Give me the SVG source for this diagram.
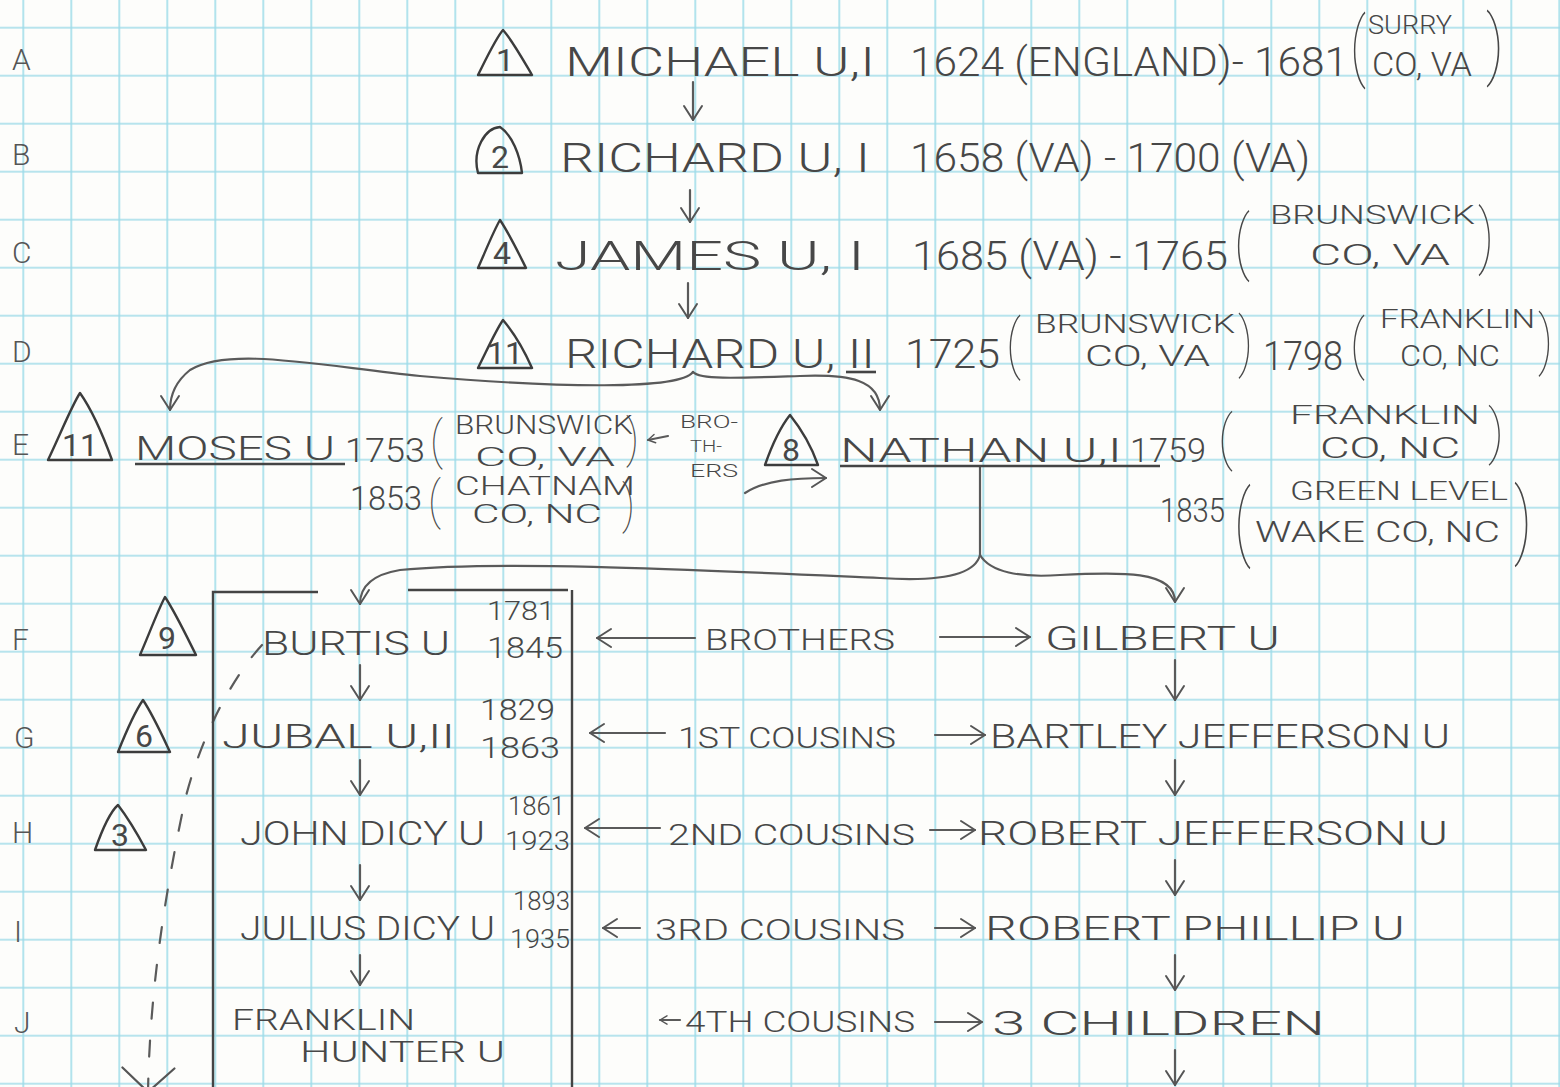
<svg xmlns="http://www.w3.org/2000/svg" width="1560" height="1087" viewBox="0 0 1560 1087">
<defs>
<pattern id="grid" x="-0.7" y="3.7" width="48" height="48" patternUnits="userSpaceOnUse">
<path d="M24,0 V48 M0,24 H48" stroke="#9fdce9" stroke-width="1.6" fill="none"/>
</pattern>
<marker id="ah" viewBox="-16 -12 18 24" markerWidth="18" markerHeight="24" markerUnits="userSpaceOnUse" refX="0" refY="0" orient="auto">
<path d="M-14,-9 L0,0 L-14,9" fill="none" stroke="#555" stroke-width="2" stroke-linecap="round" stroke-linejoin="round"/>
</marker>
<marker id="ahs" viewBox="-14 -10 16 20" markerWidth="12" markerHeight="14" markerUnits="userSpaceOnUse" refX="0" refY="0" orient="auto">
<path d="M-10,-6 L0,0 L-10,6" fill="none" stroke="#555" stroke-width="2" stroke-linecap="round" stroke-linejoin="round"/>
</marker>
<marker id="ahb" viewBox="-30 -30 32 60" markerWidth="32" markerHeight="60" markerUnits="userSpaceOnUse" refX="0" refY="0" orient="auto">
<path d="M-24,-26 L0,0 L-24,26" fill="none" stroke="#555" stroke-width="2.2" stroke-linecap="round"/>
</marker>
</defs>
<style>
.t{font-family:Roboto,"Liberation Sans",Arial,sans-serif;font-weight:300;fill:#474747}
.row{font-size:30px;fill:#555}
.big{font-size:40px}
.mid{font-size:34px}
.m2{font-size:30px}
.sm{font-size:25px}
.xs{font-size:18px}
.p{font-weight:100}
.num{font-size:32px;text-anchor:middle;font-weight:400}
.tri{fill:none;stroke:#3c3c3c;stroke-width:2.4;stroke-linejoin:round}
.c{fill:none;stroke:#5a5a5a;stroke-width:2.2;stroke-linecap:round}
.box{fill:none;stroke:#444;stroke-width:2.4}
.ul{stroke:#444;stroke-width:2.6}
</style>
<rect width="1560" height="1087" fill="#fdfdfb"/>
<rect width="1560" height="1087" fill="url(#grid)"/>

<g id="row-labels" class="t row">
<text x="12" y="70">A</text>
<text x="12" y="165">B</text>
<text x="12" y="263">C</text>
<text x="12" y="362">D</text>
<text x="12" y="455">E</text>
<text x="12" y="650">F</text>
<text x="14" y="748">G</text>
<text x="12" y="843">H</text>
<text x="14" y="942">I</text>
<text x="14" y="1033">J</text>
</g>

<g id="connectors">
<path class="c" d="M693,82 V120" marker-end="url(#ah)"/>
<path class="c" d="M690,190 V222" marker-end="url(#ah)"/>
<path class="c" d="M688,283 V318" marker-end="url(#ah)"/>
<path class="c" d="M693,372 C680,390 560,388 420,376 C320,366 230,346 190,370 C175,382 170,395 170,410" marker-end="url(#ah)"/>
<path class="c" d="M693,372 C700,380 740,378 800,376 C850,374 880,380 880,410" marker-end="url(#ah)"/>
<path class="c" d="M668,436 L648,440" marker-end="url(#ahs)"/>
<path class="c" d="M745,493 C765,480 795,478 826,478" marker-end="url(#ah)"/>
<path class="c" d="M980,466 V555"/>
<path class="c" d="M980,555 C975,575 940,582 880,578 C700,570 500,560 400,570 C370,575 360,588 360,604" marker-end="url(#ah)"/>
<path class="c" d="M980,555 C990,572 1020,578 1060,575 C1120,572 1175,570 1175,602" marker-end="url(#ah)"/>
<path class="c" d="M360,665 V700" marker-end="url(#ah)"/>
<path class="c" d="M360,760 V795" marker-end="url(#ah)"/>
<path class="c" d="M360,865 V900" marker-end="url(#ah)"/>
<path class="c" d="M360,955 V985" marker-end="url(#ah)"/>
<path class="c" d="M1175,660 V700" marker-end="url(#ah)"/>
<path class="c" d="M1175,760 V795" marker-end="url(#ah)"/>
<path class="c" d="M1175,860 V895" marker-end="url(#ah)"/>
<path class="c" d="M1175,955 V990" marker-end="url(#ah)"/>
<path class="c" d="M1175,1050 V1085" marker-end="url(#ah)"/>
<path class="c" d="M695,638 H597" marker-end="url(#ah)"/>
<path class="c" d="M940,637 H1030" marker-end="url(#ah)"/>
<path class="c" d="M665,733 H590" marker-end="url(#ah)"/>
<path class="c" d="M935,735 H985" marker-end="url(#ah)"/>
<path class="c" d="M660,828 H585" marker-end="url(#ah)"/>
<path class="c" d="M930,830 H975" marker-end="url(#ah)"/>
<path class="c" d="M640,928 H603" marker-end="url(#ah)"/>
<path class="c" d="M935,928 H975" marker-end="url(#ah)"/>
<path class="c" d="M680,1020 H660" marker-end="url(#ahs)"/>
<path class="c" d="M935,1022 H982" marker-end="url(#ah)"/>
<path class="c" d="M262,645 C230,680 200,740 185,800 C168,880 150,980 148,1092" stroke-dasharray="16 22" marker-end="url(#ahb)"/>
</g>

<g id="n-michael" class="t">
<path class="tri" d="M478,75 C488,55 496,38 503,30 C512,40 522,58 532,75 Z"/>
<text class="num" x="505" y="71">1</text>
<text class="big" x="565" y="76" textLength="310" lengthAdjust="spacingAndGlyphs">MICHAEL U,I</text>
<text class="big" x="910" y="76" textLength="438" lengthAdjust="spacingAndGlyphs">1624 (ENGLAND)- 1681</text>
<text class="p" x="1350" y="72" font-size="76" textLength="16" lengthAdjust="spacingAndGlyphs">(</text>
<text class="sm" x="1368" y="34" textLength="84" lengthAdjust="spacingAndGlyphs">SURRY</text>
<text class="mid" x="1372" y="76" textLength="100" lengthAdjust="spacingAndGlyphs">CO, VA</text>
<text class="p" x="1486" y="70" font-size="76" textLength="18" lengthAdjust="spacingAndGlyphs">)</text>
</g>

<g id="n-richard1" class="t">
<path class="tri" d="M478,173 C472,150 485,128 500,127 C512,135 520,155 522,173 Z"/>
<text class="num" x="500" y="168">2</text>
<text class="big" x="560" y="172" textLength="310" lengthAdjust="spacingAndGlyphs">RICHARD U, I</text>
<text class="big" x="910" y="172" textLength="400" lengthAdjust="spacingAndGlyphs">1658 (VA) - 1700 (VA)</text>
</g>

<g id="n-james" class="t">
<path class="tri" d="M478,268 C486,250 494,230 500,220 C510,235 518,252 526,268 Z"/>
<text class="num" x="502" y="264">4</text>
<text class="big" x="555" y="270" textLength="310" lengthAdjust="spacingAndGlyphs">JAMES U, I</text>
<text class="big" x="912" y="270" textLength="316" lengthAdjust="spacingAndGlyphs">1685 (VA) - 1765</text>
<text class="p" x="1234" y="266" font-size="70" textLength="16" lengthAdjust="spacingAndGlyphs">(</text>
<text class="sm" x="1270" y="224" textLength="205" lengthAdjust="spacingAndGlyphs">BRUNSWICK</text>
<text class="m2" x="1310" y="265" textLength="140" lengthAdjust="spacingAndGlyphs">CO, VA</text>
<text class="p" x="1478" y="260" font-size="70" textLength="16" lengthAdjust="spacingAndGlyphs">)</text>
</g>

<g id="n-richard2" class="t">
<path class="tri" d="M478,368 C488,348 496,330 503,320 C514,333 524,350 532,368 Z"/>
<text class="num" x="505" y="364">11</text>
<text class="big" x="565" y="368" textLength="310" lengthAdjust="spacingAndGlyphs">RICHARD U, II</text>
<line class="ul" x1="846" y1="372" x2="876" y2="372"/>
<text class="big" x="905" y="368" textLength="95" lengthAdjust="spacingAndGlyphs">1725</text>
<text class="p" x="1006" y="366" font-size="64" textLength="15" lengthAdjust="spacingAndGlyphs">(</text>
<text class="sm" x="1035" y="333" textLength="200" lengthAdjust="spacingAndGlyphs">BRUNSWICK</text>
<text class="m2" x="1085" y="366" textLength="125" lengthAdjust="spacingAndGlyphs">CO, VA</text>
<text class="p" x="1238" y="364" font-size="64" textLength="15" lengthAdjust="spacingAndGlyphs">)</text>
<text class="big" x="1263" y="370" textLength="80" lengthAdjust="spacingAndGlyphs">1798</text>
<text class="p" x="1350" y="366" font-size="64" textLength="15" lengthAdjust="spacingAndGlyphs">(</text>
<text class="sm" x="1380" y="328" textLength="155" lengthAdjust="spacingAndGlyphs">FRANKLIN</text>
<text class="m2" x="1400" y="366" textLength="100" lengthAdjust="spacingAndGlyphs">CO, NC</text>
<text class="p" x="1538" y="362" font-size="64" textLength="15" lengthAdjust="spacingAndGlyphs">)</text>
</g>

<g id="n-moses" class="t">
<path class="tri" d="M48,460 C60,435 72,405 80,393 C92,410 104,438 112,460 Z"/>
<text class="num" x="80" y="456" font-size="40">11</text>
<text class="mid" x="135" y="460" textLength="200" lengthAdjust="spacingAndGlyphs">MOSES U</text>
<line class="ul" x1="135" y1="464" x2="345" y2="464"/>
<text class="mid" x="345" y="462" textLength="80" lengthAdjust="spacingAndGlyphs">1753</text>
<text class="p" x="430" y="458" font-size="52" textLength="13" lengthAdjust="spacingAndGlyphs">(</text>
<text class="sm" x="455" y="434" font-size="24" textLength="178" lengthAdjust="spacingAndGlyphs">BRUNSWICK</text>
<text class="sm" x="475" y="466" font-size="26" textLength="140" lengthAdjust="spacingAndGlyphs">CO, VA</text>
<text class="p" x="626" y="456" font-size="52" textLength="13" lengthAdjust="spacingAndGlyphs">)</text>
<text class="mid" x="350" y="510" textLength="72" lengthAdjust="spacingAndGlyphs">1853</text>
<text class="p" x="428" y="518" font-size="52" textLength="13" lengthAdjust="spacingAndGlyphs">(</text>
<text class="sm" x="455" y="495" textLength="180" lengthAdjust="spacingAndGlyphs">CHATNAM</text>
<text class="sm" x="472" y="523" textLength="130" lengthAdjust="spacingAndGlyphs">CO, NC</text>
<text class="p" x="622" y="522" font-size="52" textLength="13" lengthAdjust="spacingAndGlyphs">)</text>
</g>

<g id="lbl-brothers-e" class="t xs">
<text x="680" y="428" textLength="58" lengthAdjust="spacingAndGlyphs">BRO-</text>
<text x="690" y="452" font-size="16" textLength="32" lengthAdjust="spacingAndGlyphs">TH-</text>
<text x="690" y="477" textLength="48" lengthAdjust="spacingAndGlyphs">ERS</text>
</g>

<g id="n-nathan" class="t">
<path class="tri" d="M765,465 C772,445 782,425 790,415 C802,430 812,448 818,465 Z"/>
<text class="num" x="791" y="461">8</text>
<text class="mid" x="840" y="462" textLength="282" lengthAdjust="spacingAndGlyphs">NATHAN U,I</text>
<line class="ul" x1="840" y1="466" x2="1160" y2="466"/>
<text class="mid" x="1130" y="462" textLength="76" lengthAdjust="spacingAndGlyphs">1759</text>
<text class="p" x="1218" y="458" font-size="60" textLength="15" lengthAdjust="spacingAndGlyphs">(</text>
<text class="sm" x="1290" y="424" textLength="190" lengthAdjust="spacingAndGlyphs">FRANKLIN</text>
<text class="m2" x="1320" y="458" textLength="140" lengthAdjust="spacingAndGlyphs">CO, NC</text>
<text class="p" x="1488" y="452" font-size="60" textLength="16" lengthAdjust="spacingAndGlyphs">)</text>
<text class="mid" x="1160" y="522" textLength="65" lengthAdjust="spacingAndGlyphs">1835</text>
<text class="p" x="1234" y="550" font-size="84" textLength="17" lengthAdjust="spacingAndGlyphs">(</text>
<text class="sm" x="1290" y="500" textLength="218" lengthAdjust="spacingAndGlyphs">GREEN LEVEL</text>
<text class="m2" x="1255" y="542" textLength="245" lengthAdjust="spacingAndGlyphs">WAKE CO, NC</text>
<text class="p" x="1514" y="548" font-size="84" textLength="18" lengthAdjust="spacingAndGlyphs">)</text>
</g>

<g id="box">
<path class="box" d="M318,592 H213 V1087"/>
<path class="box" d="M408,590 H568"/>
<path class="box" d="M572,590 V1087"/>
</g>

<g id="n-burtis" class="t">
<path class="tri" d="M140,655 C150,632 158,610 165,597 C175,612 186,635 196,655 Z"/>
<text class="num" x="167" y="649">9</text>
<text class="mid" x="262" y="655" textLength="188" lengthAdjust="spacingAndGlyphs">BURTIS U</text>
<text class="sm" x="487" y="620" textLength="68" lengthAdjust="spacingAndGlyphs">1781</text>
<text class="m2" x="487" y="658" textLength="76" lengthAdjust="spacingAndGlyphs">1845</text>
</g>

<g id="n-jubal" class="t">
<path class="tri" d="M118,752 C126,732 136,710 143,700 C153,715 162,735 170,752 Z"/>
<text class="num" x="144" y="747">6</text>
<text class="mid" x="222" y="748" textLength="233" lengthAdjust="spacingAndGlyphs">JUBAL U,II</text>
<text class="m2" x="480" y="720" textLength="75" lengthAdjust="spacingAndGlyphs">1829</text>
<text class="m2" x="480" y="758" textLength="80" lengthAdjust="spacingAndGlyphs">1863</text>
</g>

<g id="n-john" class="t">
<path class="tri" d="M95,850 C102,830 110,812 118,805 C128,818 138,835 146,850 Z"/>
<text class="num" x="120" y="846">3</text>
<text class="mid" x="240" y="845" textLength="245" lengthAdjust="spacingAndGlyphs">JOHN DICY U</text>
<text class="sm" x="508" y="815" textLength="57" lengthAdjust="spacingAndGlyphs">1861</text>
<text class="sm" x="505" y="850" textLength="65" lengthAdjust="spacingAndGlyphs">1923</text>
</g>

<g id="n-julius" class="t">
<text class="mid" x="240" y="940" textLength="255" lengthAdjust="spacingAndGlyphs">JULIUS DICY U</text>
<text class="sm" x="513" y="910" textLength="57" lengthAdjust="spacingAndGlyphs">1893</text>
<text class="sm" x="510" y="948" textLength="60" lengthAdjust="spacingAndGlyphs">1935</text>
</g>

<g id="n-franklin" class="t">
<text class="m2" x="232" y="1030" textLength="183" lengthAdjust="spacingAndGlyphs">FRANKLIN</text>
<text class="m2" x="300" y="1062" textLength="205" lengthAdjust="spacingAndGlyphs">HUNTER U</text>
</g>

<g id="n-gilbert" class="t"><text class="mid" x="1045" y="650" textLength="235" lengthAdjust="spacingAndGlyphs">GILBERT U</text></g>
<g id="n-bartley" class="t"><text class="mid" x="990" y="748" textLength="460" lengthAdjust="spacingAndGlyphs">BARTLEY JEFFERSON U</text></g>
<g id="n-robertj" class="t"><text class="mid" x="978" y="845" textLength="470" lengthAdjust="spacingAndGlyphs">ROBERT JEFFERSON U</text></g>
<g id="n-robertp" class="t"><text class="mid" x="985" y="940" textLength="420" lengthAdjust="spacingAndGlyphs">ROBERT PHILLIP U</text></g>
<g id="n-children" class="t"><text class="mid" x="992" y="1035" textLength="333" lengthAdjust="spacingAndGlyphs">3  CHILDREN</text></g>

<g id="relation-labels" class="t m2">
<text x="705" y="650" textLength="190" lengthAdjust="spacingAndGlyphs">BROTHERS</text>
<text x="678" y="748" textLength="218" lengthAdjust="spacingAndGlyphs">1ST COUSINS</text>
<text x="668" y="845" textLength="247" lengthAdjust="spacingAndGlyphs">2ND COUSINS</text>
<text x="655" y="940" textLength="250" lengthAdjust="spacingAndGlyphs">3RD COUSINS</text>
<text x="685" y="1032" textLength="230" lengthAdjust="spacingAndGlyphs">4TH COUSINS</text>
</g>
</svg>
